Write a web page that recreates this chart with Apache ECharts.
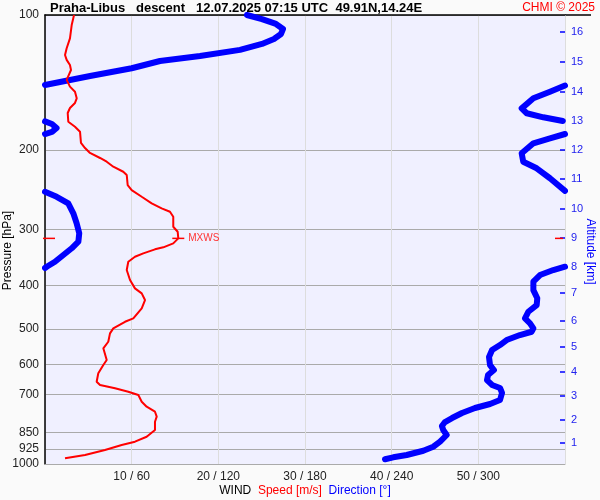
<!DOCTYPE html>
<html><head><meta charset="utf-8">
<script src="https://cdn.jsdelivr.net/npm/echarts@6/dist/echarts.min.js"></script>
<style>html,body{margin:0;padding:0;background:#fafafa}#c{width:600px;height:500px}</style>
</head><body><div id="c"></div>
<script>
// ---- data ----
const pressureTicks = [100, 200, 300, 400, 500, 600, 700, 850, 925, 1000];
const speedTicks = [10, 20, 30, 40, 50];
const altitudeKm = [1, 2, 3, 4, 5, 6, 7, 8, 9, 10, 11, 12, 13, 14, 15, 16];
const altitudePressure = [897.9, 798.0, 705.8, 624.0, 548.8, 480.3, 416.0, 364.1, 313.8, 270.4, 231.9, 199.8, 172.2, 148.4, 127.2, 109.1];

// wind speed profile [m/s] vs pressure [hPa]
const speedPressure = [100, 105.3, 112.7, 118.6, 122.8, 125.9, 129.2, 132.6, 139.5, 144.4, 148.2, 153.3, 157.0, 161.1, 165.3, 172.9, 177.4, 181.9, 192.7, 197.8, 202.9, 208.2, 212.2, 217.7, 223.4, 227.2, 239.2, 245.4, 254.0, 262.7, 269.5, 274.3, 281.4, 296.2, 303.9, 314.4, 322.6, 329.2, 332.6, 339.5, 345.5, 354.5, 369.8, 389.3, 406.3, 416.9, 431.4, 450.1, 473.8, 482.2, 498.8, 511.7, 534.2, 552.6, 586.8, 602.0, 628.1, 655.7, 667.0, 678.4, 690.2, 702.0, 726.6, 745.5, 764.8, 784.6, 805.1, 840.1, 869.4, 891.9, 907.2, 930.7, 955.0, 971.2];
const speedValue = [3.35, 3.08, 2.88, 2.50, 2.31, 2.50, 2.88, 3.0, 2.50, 2.88, 3.46, 3.66, 3.46, 2.88, 2.62, 2.69, 3.46, 4.04, 4.15, 4.62, 5.19, 6.35, 7.12, 7.88, 9.03, 9.43, 9.54, 10.0, 11.16, 12.31, 13.46, 14.42, 14.80, 14.80, 15.31, 15.38, 14.80, 13.65, 12.69, 11.34, 10.38, 9.61, 9.43, 9.81, 10.38, 11.16, 11.54, 11.16, 10.19, 9.23, 7.88, 7.50, 7.30, 6.73, 7.12, 6.73, 6.15, 5.96, 6.35, 8.08, 9.61, 10.77, 11.16, 11.73, 12.69, 12.89, 12.69, 12.69, 11.73, 10.38, 8.85, 6.92, 4.62, 2.31];

// wind direction profile [deg] vs pressure [hPa], split where it wraps 0/360
const dirPressureA = [100, 102.1, 104.7, 107.4, 110.2, 113.1, 116.0, 119.6, 123.4, 126.6, 131.4, 136.7, 143.2];
const dirValueA    = [139.8, 150.2, 159.9, 164.8, 163.4, 158.5, 150.2, 135.0, 107.3, 79.6, 60.0, 31.2, 0];
const dirPressureB = [143.6, 144.4, 148.2, 153.3, 161.4, 165.5, 169.0, 172.2];
const dirValueB    = [360, 358.8, 349.6, 338.1, 330.0, 333.5, 345.0, 358.5];
const dirPressureC = [172.6, 174.9, 178.5, 182.2, 184.1];
const dirValueC    = [0, 4.8, 8.0, 4.8, 0];
const dirPressureD = [184.1, 188.2, 193.1, 203.2, 212.2, 219.5, 231.0, 246.4];
const dirValueD    = [360, 349.6, 338.1, 330.0, 331.1, 340.4, 349.6, 360];
const dirPressureE = [247.6, 254.0, 262.7, 276.5, 291.0, 306.4, 319.8, 330.8, 342.4, 354.5, 363.6, 366.0];
const dirValueE    = [0, 8.1, 16.1, 19.6, 21.9, 23.7, 23.1, 18.5, 12.7, 6.9, 1.2, 0];
const dirPressureF = [363.6, 369.8, 379.5, 392.6, 410.0, 427.6, 442.6, 458.0, 473.8, 486.1, 498.8, 507.5, 516.2, 529.6, 543.3, 557.5, 577.8, 602.0, 617.6, 633.8, 650.2, 666.8, 677.2, 694.8, 720.3, 735.2, 750.4, 769.9, 790.0, 806.3, 823.1, 840.1, 861.8, 891.9, 915.3, 934.2, 955.0, 966.2, 976.1];
const dirValueF    = [360, 351.9, 342.7, 338.1, 338.1, 340.8, 340.4, 334.6, 332.3, 335.8, 338.1, 336.9, 328.8, 319.6, 315.0, 309.5, 307.4, 308.1, 310.8, 306.7, 306.0, 309.5, 315.0, 316.4, 315.0, 308.1, 297.7, 288.7, 281.8, 276.9, 274.8, 275.7, 278.1, 273.5, 268.8, 261.9, 250.4, 241.1, 235.4];

// ---- build ----
const L = Math.log10;
const speedData = speedPressure.map((p, i) => [speedValue[i], L(p)]);
const dirSegs = [[dirPressureA, dirValueA], [dirPressureB, dirValueB], [dirPressureC, dirValueC],
                 [dirPressureD, dirValueD], [dirPressureE, dirValueE], [dirPressureF, dirValueF]];
let iMax = 0;
speedValue.forEach((v, i) => { if (v > speedValue[iMax]) iMax = i; });
const maxS = speedValue[iMax], maxY = L(speedPressure[iMax]);

const FONT = 'Liberation Sans, Arial, sans-serif';
const BLUE = '#0000ff', RED = '#ff0000';

const series = [];
dirSegs.forEach(([pp, dd]) => {
  series.push({
    type: 'line', xAxisIndex: 1, yAxisIndex: 0, showSymbol: false, smooth: false,
    data: pp.map((p, i) => [dd[i], L(p)]),
    lineStyle: { color: BLUE, width: 6, cap: 'round', join: 'round' },
    itemStyle: { color: BLUE }, silent: true, z: 3
  });
});
series.push({
  type: 'line', xAxisIndex: 0, yAxisIndex: 0, showSymbol: false, smooth: false,
  data: speedData, lineStyle: { color: RED, width: 2 }, itemStyle: { color: RED }, z: 4, silent: true,
  markPoint: {
    silent: true,
    itemStyle: { color: RED },
    label: { show: false },
    data: [
      { coord: [maxS, maxY], symbol: 'rect', symbolSize: [12, 1.5],
        label: { show: true, position: 'right', distance: 4, formatter: 'MXWS', color: '#ff3333', fontSize: 10, fontFamily: FONT } },
      { coord: [0, maxY], symbol: 'rect', symbolSize: [12, 1.5], symbolOffset: [4, 0] },
      { coord: [60, maxY], symbol: 'rect', symbolSize: [8, 1.5], symbolOffset: [-6, 0] }
    ]
  }
});

const chart = echarts.init(document.getElementById('c'), null, { renderer: 'canvas' });
chart.setOption({
  backgroundColor: '#fafafa',
  animation: false,
  textStyle: { fontFamily: FONT },
  title: [
    { text: 'Praha-Libus   descent   12.07.2025 07:15 UTC  49.91N,14.24E', left: 50, top: 2, padding: 0,
      textStyle: { fontSize: 13, fontWeight: 'bold', color: '#000', fontFamily: FONT } },
    { text: 'CHMI © 2025', right: 5, top: 2, padding: 0,
      textStyle: { fontSize: 12, fontWeight: 'normal', color: RED, fontFamily: FONT } }
  ],
  grid: { left: 45, right: 35, top: 15, bottom: 36, show: true, backgroundColor: '#f0f0ff', borderWidth: 0,
          containLabel: false, outerBoundsMode: 'none' },
  xAxis: [
    { type: 'value', min: 0, max: 60, interval: 10, position: 'bottom',
      axisLine: { show: true, onZero: false, lineStyle: { color: '#aaaaaa', width: 1 } },
      axisTick: { show: false },
      axisLabel: { color: '#222', fontSize: 12, margin: 7, fontFamily: FONT,
        formatter: v => (speedTicks.indexOf(v) >= 0 ? v + ' / ' + v * 6 : '') },
      splitLine: { show: true, lineStyle: { color: '#dddddd', width: 1 } },
      name: '{a|WIND}  {b|Speed [m/s]}  {c|Direction [°]}', nameLocation: 'middle', nameGap: 21, nameMoveOverlap: false,
      nameTextStyle: { fontSize: 12, fontFamily: FONT,
        rich: { a: { color: '#000', fontSize: 12 }, b: { color: RED, fontSize: 12 }, c: { color: BLUE, fontSize: 12 } } }
    },
    { type: 'value', min: 0, max: 360, position: 'top',
      axisLine: { show: true, onZero: false, lineStyle: { color: '#000', width: 1.5 } },
      axisTick: { show: false }, axisLabel: { show: false }, splitLine: { show: false } }
  ],
  yAxis: [
    { type: 'value', min: 2, max: 3, inverse: true, position: 'left',
      axisLine: { show: true, onZero: false, lineStyle: { color: '#000', width: 1.5 } },
      axisTick: { show: false, customValues: pressureTicks.map(L) },
      axisLabel: { customValues: pressureTicks.map(L), color: '#222', fontSize: 12, margin: 6, fontFamily: FONT,
        formatter: v => String(Math.round(Math.pow(10, v))) },
      splitLine: { show: true, lineStyle: { color: '#aaaaaa', width: 1 } },
      name: 'Pressure [hPa]', nameLocation: 'middle', nameGap: 31, nameRotate: 90, nameMoveOverlap: false,
      nameTextStyle: { color: '#000', fontSize: 12, fontFamily: FONT, padding: [0, 22, 0, 0] }
    },
    { type: 'value', min: 2, max: 3, inverse: true, position: 'right',
      axisLine: { show: false, onZero: false },
      axisTick: { show: true, inside: true, length: 5, customValues: altitudePressure.map(L), lineStyle: { color: BLUE, width: 1.5 } },
      axisLabel: { customValues: altitudePressure.map(L), color: '#2222ee', fontSize: 11, margin: 6, fontFamily: FONT,
        formatter: v => {
          let best = 0;
          altitudePressure.forEach((p, i) => { if (Math.abs(L(p) - v) < Math.abs(L(altitudePressure[best]) - v)) best = i; });
          return String(altitudeKm[best]);
        } },
      splitLine: { show: false },
      name: 'Altitude [km]', nameLocation: 'middle', nameGap: 19, nameRotate: -90, nameMoveOverlap: false,
      nameTextStyle: { color: BLUE, fontSize: 12, fontFamily: FONT, padding: [0, 0, 0, 24] }
    }
  ],
  graphic: [
    { type: 'line', shape: { x1: 565, y1: 15, x2: 591, y2: 15 }, style: { stroke: '#000', lineWidth: 1.5 }, silent: true }
  ],
  series: series
});
</script>
</body></html>
